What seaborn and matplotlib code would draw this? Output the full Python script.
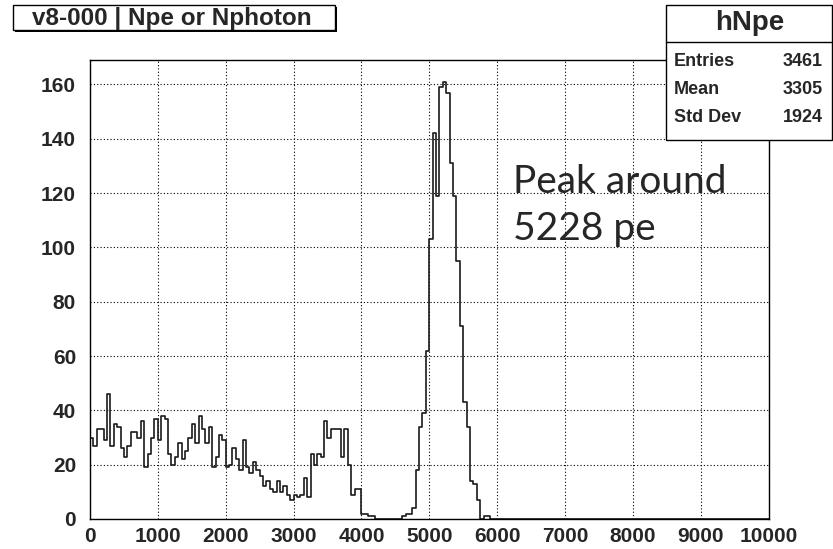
import numpy as np
import pandas as pd
import matplotlib
matplotlib.use("Agg")
import matplotlib.pyplot as plt
from matplotlib.patches import Rectangle
from matplotlib.ticker import MultipleLocator
import seaborn as sns

# Npe histogram, 50 pe bins from 0 to 10000
bin_width = 50
low_counts = [  # 0 .. 4150
    30, 27, 33, 33, 29, 46, 27, 35, 34, 26, 23, 27, 32, 32, 30, 36, 19, 24, 30, 37,
    29, 38, 37, 24, 20, 23, 28, 22, 25, 30, 35, 28, 38, 33, 28, 34, 19, 23, 31, 29,
    19, 20, 26, 22, 18, 29, 19, 17, 21, 18, 16, 12, 14, 11, 10, 14, 10, 12, 9, 7,
    9, 8, 9, 15, 8, 24, 20, 24, 23, 36, 30, 33, 33, 33, 23, 33, 20, 9, 11, 11,
    2, 2, 1, 1,
]
peak_start = 4600
peak_counts = [  # 4600 .. 5900
    1, 2, 2, 4, 18, 34, 39, 62, 103, 142, 119, 159, 161, 157, 131, 119, 95, 71,
    43, 34, 14, 13, 7, 0, 1, 1,
]

title_text = "v8-000 | Npe or Nphoton"
stats_name = "hNpe"
stats_labels = ["Entries", "Mean", "Std Dev"]
stats_values = ["3461", "3305", "1924"]
note_text = "Peak around\n5228 pe"

# build the full histogram
bin_edges = np.arange(0, 10000 + bin_width, bin_width)
counts = np.zeros(len(bin_edges) - 1)
counts[:len(low_counts)] = low_counts
i0 = peak_start // bin_width
counts[i0:i0 + len(peak_counts)] = peak_counts
df = pd.DataFrame({'npe': bin_edges[:-1] + bin_width / 2, 'n': counts})

sns.set_style("white")
plt.rcParams['font.family'] = ['Liberation Sans', 'DejaVu Sans']

W, H = 833, 549
fig = plt.figure(figsize=(W / 100, H / 100), dpi=100)
ax = fig.add_axes([90 / W, 1 - 519 / H, 678.5 / W, 459 / H])

sns.histplot(data=df, x='npe', weights='n', binwidth=bin_width, binrange=(0, 10000),
             element='step', fill=False, color='#1a1a1a', linewidth=1.2, ax=ax)

ax.set_xlim(0, 10000)
ax.set_ylim(0, 169)
ax.set_xlabel('')
ax.set_ylabel('')

ax.xaxis.set_major_locator(MultipleLocator(1000))
ax.xaxis.set_minor_locator(MultipleLocator(200))
ax.yaxis.set_major_locator(MultipleLocator(20))
ax.yaxis.set_minor_locator(MultipleLocator(5))
ax.tick_params(axis='x', which='major', direction='in', length=12, width=1, pad=6)
ax.tick_params(axis='x', which='minor', direction='in', length=7, width=1)
ax.tick_params(axis='y', which='major', direction='in', length=20, width=1, pad=10)
ax.tick_params(axis='y', which='minor', direction='in', length=10, width=1)
for lab in ax.get_xticklabels() + ax.get_yticklabels():
    lab.set_fontweight('bold')
    lab.set_fontsize(15)

ax.grid(True, which='major', color='black', linestyle=(0, (1, 2)), linewidth=0.8)
for sp in ax.spines.values():
    sp.set_visible(True)
    sp.set_color('black')
    sp.set_linewidth(1)


def px_box(x0, y0, x1, y1, shadow=True):
    if shadow:
        fig.add_artist(Rectangle((x0 / W + 2 / W, 1 - y1 / H - 2 / H), (x1 - x0) / W, (y1 - y0) / H,
                                 transform=fig.transFigure, fc='black', ec='none', zorder=5))
    fig.add_artist(Rectangle((x0 / W, 1 - y1 / H), (x1 - x0) / W, (y1 - y0) / H,
                             transform=fig.transFigure, fc='white', ec='black', lw=1, zorder=6))


# title box
px_box(13, 5, 335, 30)
fig.text(172 / W, 1 - 18 / H, title_text, ha='center', va='center',
         fontsize=17.5, fontweight='bold', zorder=7)

# stats box
px_box(666, 5, 832, 140, shadow=False)
fig.add_artist(plt.Line2D([666 / W, 832 / W], [1 - 42 / H, 1 - 42 / H],
                          transform=fig.transFigure, color='black', lw=1, zorder=7))
fig.text(750 / W, 1 - 30 / H, stats_name, ha='center', va='baseline',
         fontsize=20, fontweight='bold', zorder=7)
for k, (lab, val) in enumerate(zip(stats_labels, stats_values)):
    yb = 1 - (66 + 28 * k) / H
    fig.text(674 / W, yb, lab, ha='left', va='baseline', fontsize=13, fontweight='bold', zorder=7)
    fig.text(823 / W, yb, val, ha='right', va='baseline', fontsize=13, fontweight='bold', zorder=7)

# annotation
fig.text(513 / W, 1 - 240 / H, note_text, ha='left', va='baseline',
         fontsize=28, family=['Lato', 'DejaVu Sans'], linespacing=1.38, zorder=7)

fig.savefig('out.png', dpi=100)
